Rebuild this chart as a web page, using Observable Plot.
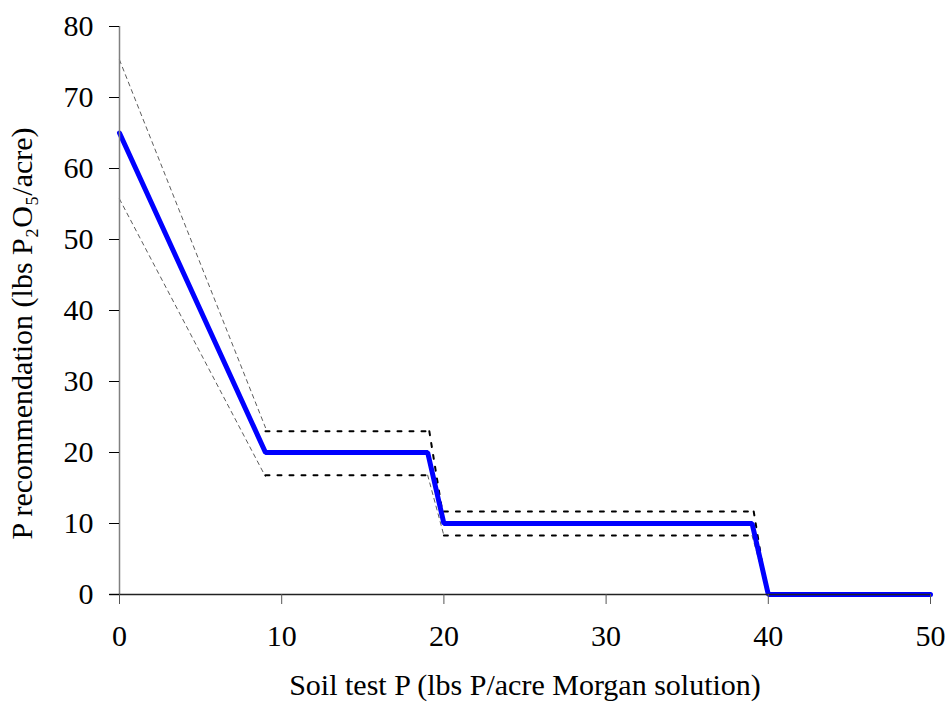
<!DOCTYPE html>
<html><head><meta charset="utf-8">
<script src="https://cdn.jsdelivr.net/npm/d3@7"></script>
<script src="https://cdn.jsdelivr.net/npm/@observablehq/plot@0.6"></script>
<style>body{margin:0;background:#fff}</style>
</head><body><div id="chart"></div>
<script>
const xTicks = [0, 10, 20, 30, 40, 50];
const yTicks = [0, 10, 20, 30, 40, 50, 60, 70, 80];
// recommendation (blue)
const recX = [0, 9, 19, 20, 39, 40, 50];
const recY = [65, 20, 20, 10, 10, 0, 0];
// confidence band: sloped / thin dashed segments
const thinSegs = [
  {x: [0, 9], y: [75.3, 23.5]},
  {x: [0, 9], y: [55.7, 16.6]},
  {x: [19, 20], y: [16.8, 8.3]},
  {x: [39, 40], y: [8.3, 0]}
];
// confidence band: dotted segments
const dotSegs = [
  {x: [9, 19.1], y: [23, 23]},
  {x: [9, 19], y: [16.8, 16.8]},
  {x: [19.1, 19.9], y: [23, 11.7]},
  {x: [20, 39.1], y: [11.7, 11.7]},
  {x: [20, 39], y: [8.3, 8.3]},
  {x: [39.1, 39.9], y: [11.7, 0.5]}
];
const xLabel = "Soil test P (lbs P/acre Morgan solution)";
const yLabel = "P recommendation (lbs P\u2082O\u2085/acre)";

const font = "'Liberation Serif', 'Times New Roman', serif";
const fs = 30;
const marks = [];
for (const s of thinSegs) {
  marks.push(Plot.line(s.x.map((x, i) => [x, s.y[i]]), {x: d => d[0], y: d => d[1], stroke: "#333", strokeWidth: 0.8, strokeDasharray: "4,4"}));
}
for (const s of dotSegs) {
  marks.push(Plot.line(s.x.map((x, i) => [x, s.y[i]]), {x: d => d[0], y: d => d[1], stroke: "#000", strokeWidth: 2, strokeDasharray: "4,8"}));
}
marks.push(Plot.line(recX.map((x, i) => [x, recY[i]]), {x: d => d[0], y: d => d[1], stroke: "#0000ff", strokeWidth: 5, strokeLinejoin: "miter"}));
marks.push(Plot.ruleX([0], {stroke: "#808080", strokeWidth: 1.5}));
marks.push(Plot.ruleY([0], {stroke: "#222", strokeWidth: 1.5, x1: -0.6, x2: 50}));
marks.push(Plot.axisX({ticks: xTicks, tickSize: 10, tickPadding: 20, stroke: "#555", label: null, fontSize: fs, tickFormat: d => d}));
marks.push(Plot.axisY({ticks: yTicks, tickSize: 10, tickPadding: 16, stroke: "#000", label: null, fontSize: fs, tickFormat: d => d}));
marks.push(Plot.text([xLabel], {frameAnchor: "bottom", dy: 100, fontSize: fs, text: d => d, fill: "#000"}));
marks.push(Plot.text([yLabel], {frameAnchor: "left", textAnchor: "middle", dx: -97, dy: 23, rotate: -90, fontSize: fs, text: d => d, fill: "#000"}));

const chart = Plot.plot({
  width: 949, height: 706,
  marginLeft: 119, marginRight: 19, marginTop: 26, marginBottom: 112,
  style: {fontFamily: font, fontSize: fs + "px", color: "#000", background: "#fff", overflow: "visible"},
  x: {domain: [0, 50]},
  y: {domain: [0, 80]},
  marks
});
document.getElementById("chart").appendChild(chart);
</script></body></html>
